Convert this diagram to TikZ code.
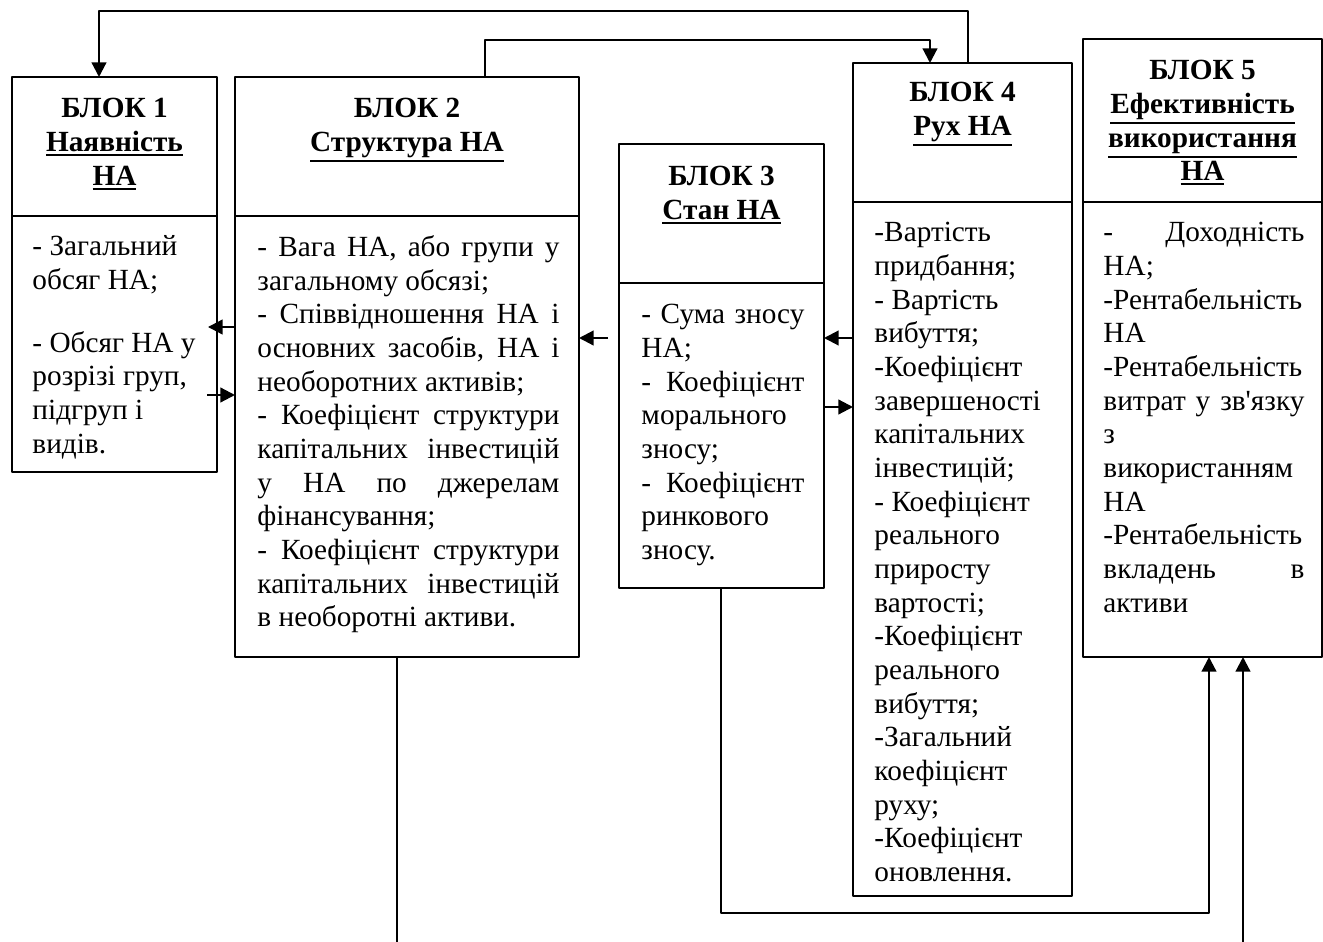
\documentclass[tikz,border=0pt]{standalone}
\usepackage{fontspec}
\setmainfont{Liberation Serif}[Ligatures=TeXOff]
\usetikzlibrary{arrows.meta,positioning,calc}
\newcommand{\ulb}[1]{\vtop{\hbox{#1}\kern1pt\hrule height 0.9pt}}
\newcommand{\jl}[1]{\makebox[\hsize][s]{#1}}
\begin{document}
\begin{tikzpicture}[line join=round,x=0.41pt,y=-0.41pt,>={Triangle[length=6pt,width=6pt]},font=\fontsize{12}{13.8}\selectfont]
	\def\pxl{0.41pt}
	\tikzset{frame/.style={draw,line width=0.8pt,inner sep=0pt,outer sep=0pt},
		head/.style={align=center,inner sep=0pt,anchor=north,font=\fontsize{12}{13.8}\selectfont\bfseries},
		body/.style={align=flush left,inner sep=0pt,anchor=north west},
		arr/.style={->,line width=0.9pt}}
	\useasboundingbox (0,0) rectangle (1323,942);
	\foreach \n/\x/\y/\w/\hh/\hb in {1/12/77/205/139/256,2/235/77/344/139/441,3/619/144/205/139/305,4/853/63/219/139/694,5/1083/39/239/163/455}{
		\pgfmathsetlengthmacro\bw{\w*\pxl}
		\pgfmathsetlengthmacro\bh{\hh*\pxl}
		\pgfmathsetlengthmacro\bb{\hb*\pxl}
		\node[frame,anchor=north west,minimum width=\bw,minimum height=\bh] (h\n) at (\x,\y) {};
		\node[frame,below=0pt of h\n,minimum width=\bw,minimum height=\bb] (b\n) {};
	}
	\node[head] (t1) at ($(h1.north)+(0,21)$) {БЛОК 1\\\ulb{Наявність}\\\ulb{НА}};
	\node[head] (t2) at ($(h2.north)+(0,21)$) {БЛОК 2\\\ulb{Структура НА}};
	\node[head] (t3) at ($(h3.north)+(0,22)$) {БЛОК 3\\\ulb{Стан НА}};
	\node[head] (t4) at ($(h4.north)+(0,19)$) {БЛОК 4\\\ulb{Рух НА}};
	\node[head] (t5) at ($(h5.north)+(0,21)$) {БЛОК 5\\\ulb{Ефективність}\\\ulb{використання}\\\ulb{НА}};
	\node[body,text width=71.8pt] (x1) at ($(b1.north west)+(20,19)$) {- Загальний\\ обсяг НА;\\[12pt] - Обсяг НА у\\ розрізі груп,\\ підгруп і\\ видів.};
	\node[body,text width=123.8pt] (x2) at ($(b2.north west)+(22,19)$) {\jl{- Вага НА, або групи у}\\ загальному обсязі;\\ \jl{- Співвідношення НА і}\\ \jl{основних засобів, НА і}\\ необоротних активів;\\ \jl{- Коефіцієнт структури}\\ \jl{капітальних інвестицій}\\ \jl{у НА по джерелам}\\ фінансування;\\ \jl{- Коефіцієнт структури}\\ \jl{капітальних інвестицій}\\ в необоротні активи.};
	\node[body,text width=66.8pt] (x3) at ($(b3.north west)+(22,21)$) {\jl{- Сума зносу}\\ НА;\\ \jl{- Коефіцієнт}\\ морального\\ зносу;\\ \jl{- Коефіцієнт}\\ ринкового\\ зносу.};
	\node[body,text width=73.8pt] (x4) at ($(b4.north west)+(21,20)$) {-Вартість\\ придбання;\\ - Вартість\\ вибуття;\\ -Коефіцієнт\\ завершеності\\ капітальних\\ інвестицій;\\ - Коефіцієнт\\ реального\\ приросту\\ вартості;\\ -Коефіцієнт\\ реального\\ вибуття;\\ -Загальний\\ коефіцієнт\\ руху;\\ -Коефіцієнт\\ оновлення.};
	\node[body,text width=82.4pt] (x5) at ($(b5.north west)+(20,20)$) {\jl{- Доходність}\\ НА;\\ -Рентабельність\\ НА\\ -Рентабельність\\ \jl{витрат у зв'язку}\\ з\\ використанням\\ НА\\ -Рентабельність\\ \jl{вкладень в}\\ активи};
	\coordinate (k1) at (99,11);
	\coordinate (k2) at (968,11);
	\coordinate (k3) at (485,40);
	\coordinate (k4) at (930,40);
	\coordinate (r1) at (0,327);
	\coordinate (r2) at (0,395);
	\coordinate (r3) at (0,338);
	\coordinate (r4) at (0,407);
	\coordinate (d1) at (721,913);
	\coordinate (d2) at (1209,913);
	\coordinate (e1) at (397,942);
	\coordinate (e2) at (1243,942);
	\draw[arr] (k2 |- h4.north) -- (k2) -- (k1) -- (k1 |- h1.north);
	\draw[arr] (k3 |- h2.north) -- (k3) -- (k4) -- (k4 |- h4.north);
	\draw[arr,shorten >=-3.7pt] (b2.west |- r1) -- (b1.east |- r1);
	\draw[arr,shorten <=-4pt] (b1.east |- r2) -- (b2.west |- r2);
	\draw[arr,shorten <=4.5pt] (b3.west |- r3) -- (b2.east |- r3);
	\draw[arr] (b4.west |- r3) -- (b3.east |- r3);
	\draw[arr] (b3.east |- r4) -- (b4.west |- r4);
	\draw[arr] (b3.south -| d1) -- (d1) -- (d2) -- (d2 |- b5.south);
	\draw[line width=0.9pt] (b2.south -| e1) -- (e1);
	\draw[arr] (e2) -- (e2 |- b5.south);
\end{tikzpicture}
\end{document}
